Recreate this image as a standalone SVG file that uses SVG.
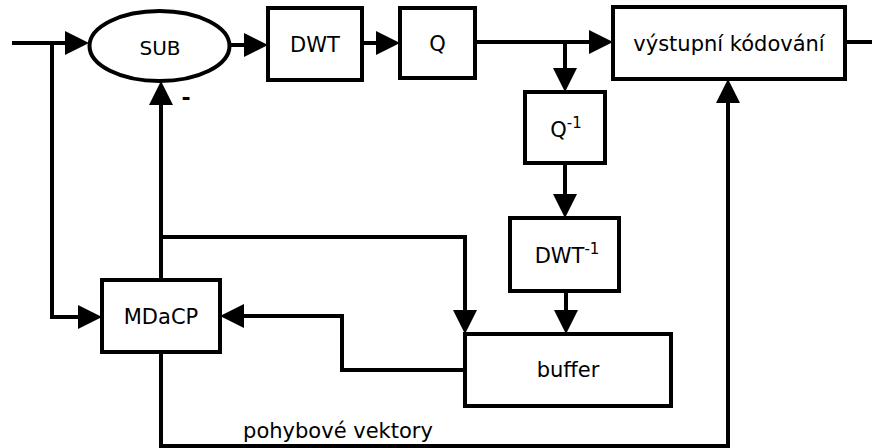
<svg xmlns="http://www.w3.org/2000/svg" width="872" height="448" viewBox="0 0 872 448">
<style>
.box{fill:#fff;stroke:#000;stroke-width:4}
.ln{fill:none;stroke:#000;stroke-width:4;marker-end:url(#ah)}
.pl{fill:none;stroke:#000;stroke-width:4}
text{font-family:"DejaVu Sans",Verdana,sans-serif;font-size:21px;fill:#000;text-anchor:middle}
.sup{font-size:15px}
</style>
<defs>
<marker id="ah" markerUnits="userSpaceOnUse" markerWidth="25" markerHeight="25" refX="0" refY="12" orient="auto">
<path d="M0,0 L24,12 L0,24 z" fill="#000"/>
</marker>
</defs>
<g id="connectors">
<path class="ln" d="M12,43 H65"/>
<path class="ln" d="M52,43 V317 H78"/>
<path class="ln" d="M230,45 H244"/>
<path class="ln" d="M362,43 H376"/>
<path class="ln" d="M475,42 H589"/>
<path class="ln" d="M565,42 V68"/>
<path class="ln" d="M565,163 V194"/>
<path class="ln" d="M566,291 V310"/>
<path class="ln" d="M161,280 V105"/>
<path class="ln" d="M161,237 H465 V310"/>
<path class="ln" d="M465,370 H342 V316 H244"/>
<path class="ln" d="M161,352 V446 H728 V103"/>
<path class="pl" d="M845,42 H872"/>
<text x="186" y="105" style="font-size:22px;font-weight:bold">-</text>
<text x="338" y="438">pohybové vektory</text>
</g>
<g id="sub">
<ellipse class="box" cx="159.5" cy="46" rx="70" ry="35"/>
<text x="160" y="55" style="font-size:20px">SUB</text>
</g>
<g id="dwt">
<rect class="box" x="268" y="8" width="94" height="72"/>
<text x="315" y="52">DWT</text>
</g>
<g id="q">
<rect class="box" x="400" y="8" width="75" height="70"/>
<text x="437.5" y="51">Q</text>
</g>
<g id="vystup">
<rect class="box" x="613" y="7" width="232" height="72"/>
<text x="729" y="51">výstupní kódování</text>
</g>
<g id="qinv">
<rect class="box" x="525" y="92" width="80" height="71"/>
<text x="566" y="137">Q<tspan class="sup" dy="-9">-1</tspan></text>
</g>
<g id="dwtinv">
<rect class="box" x="510" y="218" width="109" height="73"/>
<text x="567" y="263">DWT<tspan class="sup" dy="-9">-1</tspan></text>
</g>
<g id="mdacp">
<rect class="box" x="102" y="280" width="118" height="72"/>
<text x="161" y="324">MDaCP</text>
</g>
<g id="buffer">
<rect class="box" x="465" y="334" width="206" height="72"/>
<text x="568" y="377">buffer</text>
</g>
</svg>
